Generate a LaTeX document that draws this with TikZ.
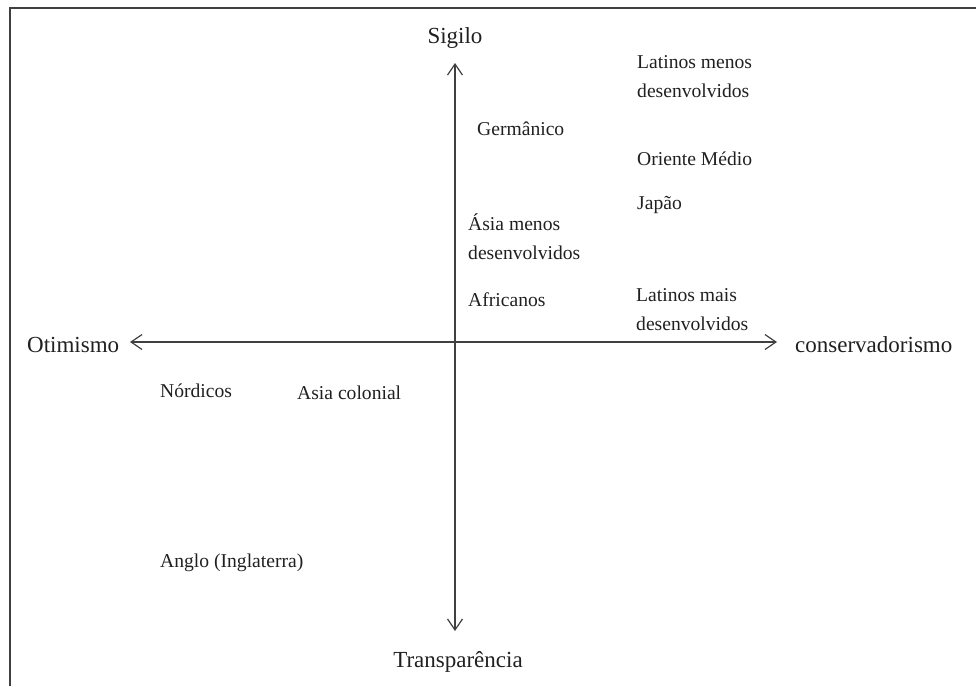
\documentclass[tikz,border=0pt]{standalone}
\usepackage{fontspec}
\setmainfont{Liberation Serif}
\usetikzlibrary{arrows.meta}
\definecolor{ink}{HTML}{202020}
\definecolor{axisgray}{HTML}{404040}
\tikzset{
  lbl/.style={anchor=base west, inner sep=0pt, text=ink, font=\fontsize{19.6}{29}\selectfont},
  axlbl/.style={inner sep=0pt, text=ink, font=\fontsize{23}{27}\selectfont},
  axisline/.style={draw=axisgray, line width=1.2pt, {Straight Barb[length=11pt,width=15pt]}-{Straight Barb[length=11pt,width=15pt]}},
  frameline/.style={draw=axisgray, line width=2.2pt}
}
\newcommand{\twoline}[2]{\begin{tabular}[t]{@{}l@{}}#1\\#2\end{tabular}}
\begin{document}
\begin{tikzpicture}[x=1pt,y=-1pt]
\useasboundingbox (0,0) rectangle (976,686);
% frame
\coordinate (fbl) at (10,686);
\coordinate (ftl) at (10,8);
\coordinate (ftr) at (976,8);
\draw[frameline] (fbl) -- (ftl) -- (ftr);
% axes end points
\coordinate (top) at (455,63);
\coordinate (bot) at (455,631);
\coordinate (lft) at (130,342);
\coordinate (rgt) at (777,342);
\draw[axisline] (bot) -- (top);
\draw[axisline] (lft) -- (rgt);
% axis labels
\node[axlbl, anchor=base] (sig) at (455,43) {Sigilo};
\node[axlbl, anchor=base] (tra) at (458,667) {Transparência};
\node[axlbl, anchor=base west] (oti) at (27,352) {Otimismo};
\node[axlbl, anchor=base west] (con) at (795,352) {conservadorismo};
% labels
\node[lbl] (latm) at (637,68) {\twoline{Latinos menos}{desenvolvidos}};
\node[lbl] (ger) at (477,135) {Germânico};
\node[lbl] (ori) at (637,165) {Oriente Médio};
\node[lbl] (jap) at (637,209) {Japão};
\node[lbl] (asm) at (468,230) {\twoline{Ásia menos}{desenvolvidos}};
\node[lbl] (afr) at (468,306) {Africanos};
\node[lbl] (latp) at (636,301) {\twoline{Latinos mais}{desenvolvidos}};
\node[lbl] (nor) at (160,397) {Nórdicos};
\node[lbl] (asc) at (297,399) {Asia colonial};
\node[lbl] (ang) at (160,567) {Anglo (Inglaterra)};
\end{tikzpicture}
\end{document}
